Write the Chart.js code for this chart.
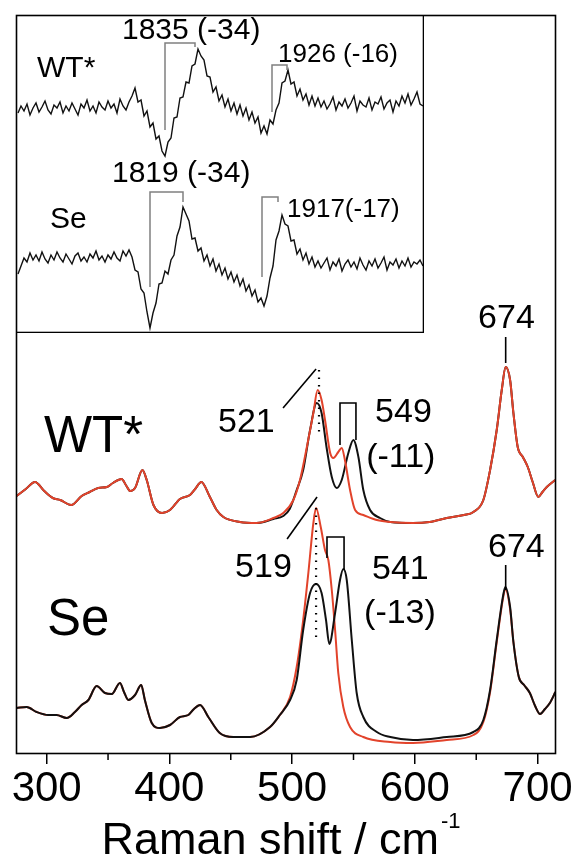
<!DOCTYPE html>
<html>
<head>
<meta charset="utf-8">
<script src="https://cdn.jsdelivr.net/npm/chart.js@4.4.1/dist/chart.umd.min.js"></script>
<style>
  html, body { margin: 0; padding: 0; background: #fff; }
  #wrap { position: relative; width: 575px; height: 864px; }
  #main { position: absolute; left: 0; top: 0; }
  #inset { position: absolute; left: 16px; top: 15px; background: #fff; }
</style>
</head>
<body>
<div id="wrap">
  <canvas id="main" width="575" height="864"></canvas>
  <canvas id="inset" width="408" height="318"></canvas>
</div>
<script>
// ---- main spectra (Raman shift in cm-1, intensity in arbitrary units) ----
const wtRedX = [275.5,283,290.5,298,305,311,320,328.5,335,342,349,354,361,365,368,372,378,381.5,387,394,400.5,408.6,416.8,421,426,433,438.5,444,457.5,471,484.7,492.8,501,506.4,512,517.3,520.8,524,526.8,531,533.6,537.6,540.4,543,547.2,551.3,558,569,580,598.5,612,626,640,647.7,655.8,661.3,666.7,670.8,674,677.6,680.3,683.8,688,692,696,700.6,704,707.5,714.3];
const wtRed  = [258,265,272,263,256,254,249,258,262,266,267,271,275,268,263,266,284,274,249,241,244,255,259,265,272,257,244,237,232,231,236,241,254,274,307,341,364,354,334,301,296,302,306,294,264,244,239,234,232,231,232,236,239,242,254,284,324,364,387,374,341,307,297,287,272,257,262,267,274];

const wtBlackX = [275.5,283,290.5,298,305,311,320,328.5,335,342,349,354,361,365,368,372,378,381.5,387,394,400.5,408.6,416.8,421,426,433,438.5,444,457.5,471,484.7,492.8,498,503.7,509,514.6,520,524,528,532.3,536.3,540.4,545.8,549.9,554,558,563.5,571.6,580,598.5,612,626,640,647.7,655.8,661.3,666.7,670.8,674,677.6,680.3,683.8,688,692,696,700.6,704,707.5,714.3];
const wtBlack  = [258,265,272,263,256,254,249,258,262,266,267,271,275,268,263,266,284,274,249,241,244,255,259,265,272,257,244,237,232,231,235,238,245,264,284,324,351,341,307,277,266,274,301,314,297,264,244,236,232,231,232,236,239,242,254,284,324,364,387,374,341,307,297,287,272,257,262,267,274];

const seRedX = [275.5,283.7,291.8,301.3,308,316.3,323,328.5,334,340.7,347.5,353,359.7,363,366.5,372,377,380,385.6,392.3,400.5,408.6,415.4,420,425,431.7,441,452,465.7,482,490,498.3,503.7,509,513.2,517.3,519.5,523.3,526.8,529.5,532.3,535,537.6,541.7,547.2,558,580,598.5,626,647.7,655.8,661.3,666.7,672,673.7,677.6,680.3,684.7,689,693.7,698,702,706,710,714.5];
const seRed  = [46,47,42,39,39,36,42,49,54,68,61,60,71,62,54,59,69,54,31,26,29,37,39,45,49,37,21,17,17,27,39,57,87,134,181,231,246,227,204,194,164,124,81,47,27,17,12,11,14,19,32,62,112,157,165,145,112,77,69,61,48,40,45,51,62];

const seBlackX = [275.5,283.7,291.8,301.3,308,316.3,323,328.5,334,340.7,347.5,353,359.7,363,366.5,372,377,380,385.6,392.3,400.5,408.6,415.4,420,425,431.7,441,452,465.7,482,490,498.3,503.7,509,514.6,519.5,524,527.6,530.3,535,539,541.7,544.5,548.6,552.6,558,569,580,598.5,626,647.7,655.8,661.3,666.7,672,673.7,677.6,680.3,684.7,689,693.7,698,702,706,710,714.5];
const seBlack  = [46,47,42,39,39,36,42,49,54,68,61,60,71,62,54,59,69,54,31,26,29,37,39,45,49,37,21,17,17,27,39,54,74,124,161,170,161,134,110,141,174,185,174,114,61,37,22,17,14,17,22,34,64,114,159,167,147,112,77,69,61,48,40,45,51,62];

const xTicks = [300, 400, 500, 600, 700];
const xMinorTicks = [350, 450, 550, 650];

// ---- inset (C=O stretch region, difference spectra) ----
const insetX = [1655,1658,1661,1664,1667,1670,1673,1676,1679,1682,
  1685,1688,1691,1694,1697,1700,1703,1706,1709,1712,
  1715,1718,1721,1724,1727,1730,1733,1736,1739,1742,
  1745,1748,1751,1754,1757,1760,1763,1766,1769,1772,
  1775,1778,1781,1784,1787,1790,1793,1796,1799,1802,
  1805,1808,1811,1814,1817,1820,1823,1826,1829,1832,
  1835,1838,1841,1844,1847,1850,1853,1856,1859,1862,
  1865,1868,1871,1874,1877,1880,1883,1886,1889,1892,
  1895,1898,1901,1904,1907,1910,1913,1916,1919,1922,
  1925,1928,1931,1934,1937,1940,1943,1946,1949,1952,
  1955,1958,1961,1964,1967,1970,1973,1976,1979,1982,
  1985,1988,1991,1994,1997,2000,2003,2006,2009,2012,
  2015,2018,2021,2024,2027,2030,2033,2036,2039,2042,
  2045,2048,2051,2054,2057,2060];
const insetWT = [219,226,221,228,217,224,229,220,225,231,
  222,218,227,224,230,219,226,221,229,223,
  217,228,224,232,221,226,219,230,225,222,
  231,224,228,219,233,226,222,230,236,244,
  230,232,216,221,205,209,193,196,181,176,
  190,194,214,215,234,235,250,249,266,268,
  283,276,272,256,255,240,245,231,237,225,
  233,221,229,218,227,216,224,212,220,209,
  215,199,206,198,212,208,222,229,249,251,
  262,248,250,236,243,232,238,227,236,226,
  234,225,231,223,228,235,222,230,226,233,
  224,229,236,221,231,227,225,234,222,230,
  228,235,223,229,232,220,231,226,236,229,
  238,227,233,240,228,226];
const insetSe = [58,66,74,70,79,72,77,71,80,73,
  69,77,72,80,74,70,78,73,68,76,
  79,71,75,70,78,74,81,72,76,70,
  77,73,80,74,71,81,76,82,75,62,
  60,43,39,20,4,19,29,48,49,61,
  58,72,77,96,105,125,118,111,93,94,
  81,84,71,77,66,73,61,68,57,64,
  53,60,50,57,46,53,41,47,36,42,
  30,34,26,36,54,66,92,101,117,108,
  106,91,92,78,83,72,79,68,75,65,
  71,64,69,74,62,70,66,73,61,68,
  72,65,70,63,74,67,62,71,66,73,
  64,69,75,62,70,67,73,64,71,66,
  74,65,70,68,72,66];

const FONT = '"Liberation Sans", Arial, Helvetica, sans-serif';
const RED = '#e2432b';
const INK = '#111111';

const pts = (xs, ys) => xs.map((x, i) => ({ x: x, y: ys[i] }));

// marker lines (in data units)
const mainMarks = [
  { pts: [[492.6,346],[519.5,385]] },
  { pts: [[539,309],[539,351],[552,351],[552,314]] },
  { pts: [[521.9,384],[521.9,317]], dotted: true },
  { pts: [[674,417],[674,391]] },
  { pts: [[495.9,215],[520.3,257]] },
  { pts: [[528.4,196],[528.4,217],[542.3,217],[542.3,184]] },
  { pts: [[519.5,246],[519.5,116]], dotted: true },
  { pts: [[674,189],[674,164]] }
];
const mainLabels = [
  { t: 'WT*', x: 297.8, y: 302, size: 51 },
  { t: 'Se', x: 300.2, y: 119, size: 51 },
  { t: '521', x: 439.6, y: 322, size: 34 },
  { t: '549', x: 567.6, y: 332, size: 34 },
  { t: '(-11)', x: 560.3, y: 287, size: 34 },
  { t: '519', x: 453.5, y: 177, size: 34 },
  { t: '541', x: 565.1, y: 175, size: 34 },
  { t: '(-13)', x: 558.6, y: 131, size: 34 },
  { t: '674', x: 651.5, y: 426, size: 34 },
  { t: '674', x: 659.6, y: 197, size: 34 }
];
const insetMarks = [
  { pts: [[1802,202],[1802,289],[1832,289],[1832,285]] },
  { pts: [[1909,220],[1909,267],[1924,267],[1924,262]] },
  { pts: [[1787,45],[1787,140],[1820,140],[1820,130]] },
  { pts: [[1899,55],[1899,135],[1915,135],[1915,130]] }
];
const insetLabels = [
  { t: 'WT*', x: 1674, y: 255, size: 30 },
  { t: '1835 (-34)', x: 1759, y: 293, size: 30 },
  { t: '1926 (-16)', x: 1915, y: 270, size: 26 },
  { t: 'Se', x: 1687, y: 104, size: 30 },
  { t: '1819 (-34)', x: 1749, y: 150, size: 30 },
  { t: '1917(-17)', x: 1924, y: 115, size: 26 }
];

function markSets(marks, color, width) {
  return marks.map(m => ({
    data: m.pts.map(p => ({ x: p[0], y: p[1] })),
    borderColor: color,
    borderWidth: m.dotted ? 2.2 : width,
    borderDash: m.dotted ? [1.5, 6] : [],
    pointRadius: 0,
    tension: 0,
    order: 0
  }));
}

// text labels, placed with the chart's own scales
const labelPlugin = {
  id: 'labels',
  afterDatasetsDraw(chart, args, opts) {
    const { ctx, scales } = chart;
    ctx.save();
    ctx.fillStyle = '#000';
    ctx.textAlign = 'left';
    ctx.textBaseline = 'alphabetic';
    opts.items.forEach(l => {
      ctx.font = l.size + 'px ' + FONT;
      ctx.fillText(l.t, scales.x.getPixelForValue(l.x), scales.y.getPixelForValue(l.y));
    });
    ctx.restore();
  }
};

const framePlugin = {
  id: 'frame',
  afterDraw(chart, args, opts) {
    const { ctx, chartArea: a } = chart;
    ctx.save();
    ctx.strokeStyle = '#000';
    ctx.lineWidth = opts.width || 1.5;
    ctx.strokeRect(a.left + 0.5, a.top + 0.5, a.right - a.left - 1, a.bottom - a.top - 1);
    ctx.restore();
  }
};

// minor ticks + axis title with superscript
const axisPlugin = {
  id: 'axisExtras',
  afterDraw(chart) {
    const { ctx, scales, chartArea } = chart;
    const x = scales.x;
    ctx.save();
    ctx.strokeStyle = '#000';
    ctx.lineWidth = 1.5;
    xMinorTicks.forEach(v => {
      const px = x.getPixelForValue(v);
      ctx.beginPath();
      ctx.moveTo(px, chartArea.bottom);
      ctx.lineTo(px, chartArea.bottom + 6);
      ctx.stroke();
    });
    const main = 'Raman shift / cm';
    const sup = '-1';
    ctx.fillStyle = '#000';
    ctx.textBaseline = 'alphabetic';
    ctx.font = '45px ' + FONT;
    const w1 = ctx.measureText(main).width;
    ctx.font = '22px ' + FONT;
    const w2 = ctx.measureText(sup).width;
    const left = 280 - (w1 + w2) / 2;
    ctx.font = '45px ' + FONT;
    ctx.fillText(main, left, 854);
    ctx.font = '22px ' + FONT;
    ctx.fillText(sup, left + w1 + 2, 828);
    ctx.restore();
  }
};

new Chart(document.getElementById('main'), {
  type: 'line',
  data: {
    datasets: [
      { data: pts(wtBlackX, wtBlack), borderColor: INK, borderWidth: 2, pointRadius: 0, cubicInterpolationMode: 'monotone', order: 3 },
      { data: pts(wtRedX, wtRed), borderColor: RED, borderWidth: 2, pointRadius: 0, cubicInterpolationMode: 'monotone', order: 2 },
      { data: pts(seRedX, seRed), borderColor: RED, borderWidth: 2, pointRadius: 0, cubicInterpolationMode: 'monotone', order: 3 },
      { data: pts(seBlackX, seBlack), borderColor: INK, borderWidth: 2, pointRadius: 0, cubicInterpolationMode: 'monotone', order: 2 }
    ].concat(markSets(mainMarks, '#000', 1.6))
  },
  options: {
    responsive: false,
    animation: false,
    events: [],
    layout: { padding: { left: 16, right: 19, top: 15, bottom: 0 } },
    plugins: {
      legend: { display: false },
      tooltip: { enabled: false },
      labels: { items: mainLabels },
      frame: { width: 1.6 }
    },
    scales: {
      x: {
        type: 'linear',
        min: 275,
        max: 715,
        afterBuildTicks: s => { s.ticks = xTicks.map(v => ({ value: v })); },
        afterFit: s => { s.height = 110; s.paddingLeft = 0; s.paddingRight = 0; },
        ticks: {
          color: '#000',
          font: { size: 42, family: FONT },
          padding: 0,
          maxRotation: 0,
          autoSkip: false
        },
        grid: { drawOnChartArea: false, drawTicks: true, tickLength: 10, color: '#000', lineWidth: 1.5 },
        border: { display: false }
      },
      y: { display: false, min: 0, max: 739 }
    }
  },
  plugins: [labelPlugin, axisPlugin, framePlugin]
});

new Chart(document.getElementById('inset'), {
  type: 'line',
  data: {
    datasets: [
      { data: pts(insetX, insetWT), borderColor: INK, borderWidth: 1.4, pointRadius: 0, tension: 0, order: 2 },
      { data: pts(insetX, insetSe), borderColor: INK, borderWidth: 1.4, pointRadius: 0, tension: 0, order: 2 }
    ].concat(markSets(insetMarks, '#808080', 1.5))
  },
  options: {
    responsive: false,
    animation: false,
    events: [],
    layout: { padding: 0 },
    plugins: {
      legend: { display: false },
      tooltip: { enabled: false },
      labels: { items: insetLabels },
      frame: { width: 1.6 }
    },
    scales: {
      x: { type: 'linear', display: false, min: 1653, max: 2061 },
      y: { display: false, min: -1, max: 317 }
    }
  },
  plugins: [labelPlugin, framePlugin]
});
</script>
</body>
</html>
